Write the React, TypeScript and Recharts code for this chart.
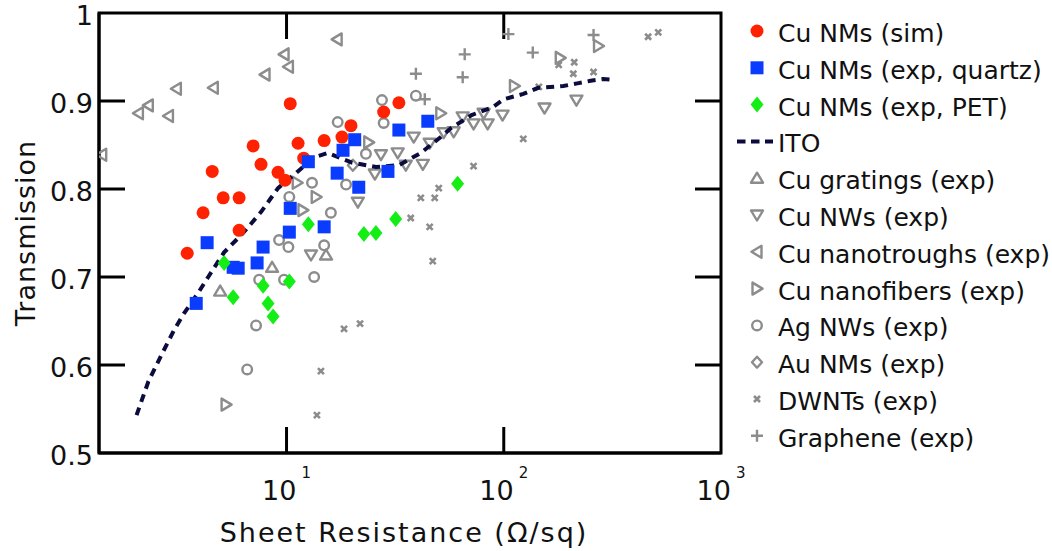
import React from "react";
import { ScatterChart, Scatter, XAxis, YAxis, Legend, ReferenceArea } from "recharts";

const FONT = "'DejaVu Sans', Verdana, sans-serif";
const RED = "#ff2200";
const BLUE = "#0a3cff";
const GREEN = "#14ee14";
const GRAY = "#8c8c8c";
const NAVY = "#0b0b3e";

type Pt = [number, number];

// sheet resistance (ohm/sq), transmission
const cuNmsSim: Pt[] = [
  [3.49, 0.727], [4.13, 0.773], [4.55, 0.82], [5.11, 0.79], [6.05, 0.79], [6.05, 0.753],
  [7.02, 0.849], [7.63, 0.828], [9.14, 0.819], [9.84, 0.81], [10.4, 0.897], [11.3, 0.852],
  [12.0, 0.835], [14.9, 0.855], [18.0, 0.859], [19.8, 0.872], [28.0, 0.8875], [32.9, 0.898],
];
const cuNmsQuartz: Pt[] = [
  [3.84, 0.67], [4.31, 0.739], [5.68, 0.711], [5.99, 0.71], [7.32, 0.716], [7.8, 0.734],
  [10.3, 0.751], [10.4, 0.778], [12.6, 0.831], [14.9, 0.757], [17.1, 0.818], [18.2, 0.844],
  [20.6, 0.856], [21.5, 0.802], [29.3, 0.82], [32.9, 0.867], [44.7, 0.877],
];
const cuNmsPet: Pt[] = [
  [5.16, 0.716], [5.68, 0.677], [7.8, 0.69], [8.22, 0.67], [8.67, 0.655], [10.3, 0.695],
  [12.6, 0.76], [22.7, 0.749], [25.8, 0.75], [31.8, 0.766], [61.3, 0.806],
];
const ito: Pt[] = [
  [2.04, 0.543], [2.31, 0.581], [2.65, 0.611], [3.04, 0.64], [3.38, 0.659], [3.92, 0.682],
  [4.36, 0.7], [5.16, 0.728], [6.31, 0.75], [7.64, 0.774], [9.14, 0.801], [10.8, 0.816],
  [13.4, 0.836], [15.5, 0.841], [20.0, 0.83], [25.8, 0.825], [32.9, 0.827], [41.5, 0.841],
  [51.3, 0.859], [57.0, 0.869], [71.1, 0.884], [88.9, 0.893], [100, 0.902], [123, 0.908],
  [144, 0.915], [188, 0.917], [218, 0.92], [251, 0.923], [287, 0.925], [326, 0.924],
];
const cuGratings: Pt[] = [[4.95, 0.684], [8.58, 0.711], [15.2, 0.725]];
const cuNws: Pt[] = [
  [12.96, 0.725], [21.3, 0.785], [25.5, 0.817], [27.2, 0.839], [32.5, 0.841], [35.4, 0.827],
  [38.5, 0.859], [42.4, 0.828], [45.6, 0.852], [52.9, 0.864], [58.8, 0.865], [64.7, 0.882],
  [72.6, 0.874], [84.3, 0.874], [80.8, 0.886], [98.7, 0.884], [154, 0.892], [216, 0.901],
];
const cuNanotroughs: Pt[] = [
  [1.41, 0.839], [2.08, 0.886], [2.31, 0.895], [2.86, 0.883], [3.11, 0.914], [4.6, 0.915],
  [7.96, 0.93], [9.74, 0.953], [10.2, 0.939], [17.1, 0.97],
];
const cuNanofibers: Pt[] = [
  [5.27, 0.555], [11.2, 0.807], [11.9, 0.776], [13.7, 0.791], [23.9, 0.853], [51.3, 0.886],
  [112, 0.917], [182, 0.949], [273, 0.9625],
];
const agNws: Pt[] = [
  [6.59, 0.595], [7.24, 0.645], [7.48, 0.697], [9.24, 0.742], [10.2, 0.734], [9.74, 0.697],
  [10.3, 0.791], [13.1, 0.807], [18.8, 0.805], [14.9, 0.736], [16.0, 0.773], [13.4, 0.7],
  [17.2, 0.876], [28.0, 0.875], [23.2, 0.84], [39.4, 0.906], [27.5, 0.901],
];
const auNms: Pt[] = [[20.2, 0.827]];
const dwnts: Pt[] = [
  [18.4, 0.641], [21.8, 0.647], [14.4, 0.593], [13.8, 0.543], [50.2, 0.801], [41.5, 0.79],
  [48.1, 0.79], [37.3, 0.767], [45.6, 0.757], [47.1, 0.718], [72.6, 0.826], [123, 0.857],
  [145, 0.916], [179, 0.941], [211, 0.944], [209, 0.931], [259, 0.933], [462, 0.973], [514, 0.978],
];
const graphene: Pt[] = [
  [39.4, 0.931], [43.3, 0.902], [64.7, 0.927], [66.1, 0.953], [105, 0.976], [136, 0.955], [259, 0.975],
];

const xTicks = [10, 100, 1000];
const yTicks = [0.5, 0.6, 0.7, 0.8, 0.9, 1];
const topTicks = [10, 100];
const rightTicks = [0.6, 0.7, 0.8, 0.9];
const X_DOMAIN: [number, number] = [1.37, 1000];
const Y_DOMAIN: [number, number] = [0.5, 1];
const TICK_LEN = 26;

const rows = (pts: Pt[]) => pts.map(([x, y]) => ({ x, y }));

type Kind = "dot" | "square" | "gem" | "up" | "down" | "left" | "right" | "ring" | "diamond" | "cross" | "plus" | "dash";

// legend order
const series: { name: string; data: Pt[]; kind: Kind; color: string }[] = [
  { name: "Cu NMs (sim)", data: cuNmsSim, kind: "dot", color: RED },
  { name: "Cu NMs (exp, quartz)", data: cuNmsQuartz, kind: "square", color: BLUE },
  { name: "Cu NMs (exp, PET)", data: cuNmsPet, kind: "gem", color: GREEN },
  { name: "ITO", data: ito, kind: "dash", color: NAVY },
  { name: "Cu gratings (exp)", data: cuGratings, kind: "up", color: GRAY },
  { name: "Cu NWs (exp)", data: cuNws, kind: "down", color: GRAY },
  { name: "Cu nanotroughs (exp)", data: cuNanotroughs, kind: "left", color: GRAY },
  { name: "Cu nanofibers (exp)", data: cuNanofibers, kind: "right", color: GRAY },
  { name: "Ag NWs (exp)", data: agNws, kind: "ring", color: GRAY },
  { name: "Au NMs (exp)", data: auNms, kind: "diamond", color: GRAY },
  { name: "DWNTs (exp)", data: dwnts, kind: "cross", color: GRAY },
  { name: "Graphene (exp)", data: graphene, kind: "plus", color: GRAY },
];

function Mark({ kind, cx, cy, color }: { kind: Kind; cx: number; cy: number; color: string }) {
  const sw = 2.4;
  const outline = { fill: "none", stroke: color, strokeWidth: sw, strokeLinejoin: "round" as const };
  switch (kind) {
    case "dot":
      return <circle cx={cx} cy={cy} r={6.5} fill={color} />;
    case "square":
      return <rect x={cx - 6.5} y={cy - 6.5} width={13} height={13} fill={color} />;
    case "gem":
      return <polygon points={`${cx},${cy - 8} ${cx + 6.5},${cy} ${cx},${cy + 8} ${cx - 6.5},${cy}`} fill={color} />;
    case "up":
      return <polygon points={`${cx},${cy - 5.5} ${cx + 6},${cy + 4.5} ${cx - 6},${cy + 4.5}`} {...outline} />;
    case "down":
      return <polygon points={`${cx},${cy + 5.5} ${cx + 6},${cy - 4.5} ${cx - 6},${cy - 4.5}`} {...outline} />;
    case "left":
      return <polygon points={`${cx - 5.5},${cy} ${cx + 4.5},${cy - 6} ${cx + 4.5},${cy + 6}`} {...outline} />;
    case "right":
      return <polygon points={`${cx + 5.5},${cy} ${cx - 4.5},${cy - 6} ${cx - 4.5},${cy + 6}`} {...outline} />;
    case "ring":
      return <circle cx={cx} cy={cy} r={4.8} {...outline} />;
    case "diamond":
      return <polygon points={`${cx},${cy - 5.5} ${cx + 5},${cy} ${cx},${cy + 5.5} ${cx - 5},${cy}`} {...outline} />;
    case "cross":
      return <path d={`M${cx - 3},${cy - 3}L${cx + 3},${cy + 3}M${cx + 3},${cy - 3}L${cx - 3},${cy + 3}`} stroke={color} strokeWidth={2.6} />;
    case "plus":
      return <path d={`M${cx - 6},${cy}L${cx + 6},${cy}M${cx},${cy - 6}L${cx},${cy + 6}`} stroke={color} strokeWidth={2.4} />;
    case "dash":
      return <line x1={cx - 20} y1={cy} x2={cx + 16} y2={cy} stroke={color} strokeWidth={4} strokeDasharray="8.5 5.5" />;
  }
  return null;
}

function BottomTick({ x, y, payload }: any) {
  const v = payload.value;
  return (
    <g>
      {v < X_DOMAIN[1] && <line x1={x} y1={y} x2={x} y2={y - TICK_LEN} stroke="#000" strokeWidth={3} />}
      <text x={x} y={y + 47} textAnchor="middle" fontSize={27} fontFamily={FONT} fill="#111">
        10
        <tspan dx={5} dy={-22} fontSize={15}>
          {Math.round(Math.log10(v))}
        </tspan>
      </text>
    </g>
  );
}

function LeftTick({ x, y, payload }: any) {
  const v = payload.value;
  return (
    <g>
      {v > Y_DOMAIN[0] && v < Y_DOMAIN[1] && <line x1={x} y1={y} x2={x + TICK_LEN} y2={y} stroke="#000" strokeWidth={3} />}
      <text x={x - 6} y={y + 12} textAnchor="end" fontSize={27} fontFamily={FONT} fill="#111">
        {v === 1 ? "1" : v.toFixed(1)}
      </text>
    </g>
  );
}

function XTitle({ viewBox }: any) {
  return (
    <text x={viewBox.x + viewBox.width / 2 - 6} y={viewBox.y + 89} textAnchor="middle" fontSize={27}
      fontFamily={FONT} fill="#111" letterSpacing={2}>
      Sheet Resistance (Ω/sq)
    </text>
  );
}

function YTitle({ viewBox }: any) {
  const cx = 25;
  const cy = viewBox.y + viewBox.height / 2;
  return (
    <text x={cx} y={cy} transform={`rotate(-90 ${cx} ${cy})`} textAnchor="middle" dominantBaseline="central"
      fontSize={27} fontFamily={FONT} fill="#111" letterSpacing={1}>
      Transmission
    </text>
  );
}

function LegendBox() {
  return (
    <svg width={322} height={460} style={{ display: "block" }}>
      {series.map((s, i) => {
        const cy = 33 + i * 36.8;
        return (
          <g key={s.name}>
            <Mark kind={s.kind} cx={27} cy={cy - 2} color={s.color} />
            <text x={48} y={cy + 9} fontSize={25} fontFamily={FONT} fill="#111">
              {s.name}
            </text>
          </g>
        );
      })}
    </svg>
  );
}

const drawOrder = [4, 5, 6, 7, 8, 9, 10, 11, 3, 0, 1, 2];

export default function App() {
  const axisLine = { stroke: "#000", strokeWidth: 3 };
  return (
    <div style={{ position: "absolute", left: 0, top: 0, width: 1052, height: 551, background: "#fff" }}>
      <ScatterChart width={1052} height={551} margin={{ top: 13, right: 331, bottom: 0, left: 0 }}>
        <XAxis xAxisId="b" type="number" dataKey="x" scale="log" domain={X_DOMAIN} allowDataOverflow
          ticks={xTicks} interval={0} tick={<BottomTick />} tickLine={false} tickSize={0} tickMargin={0}
          axisLine={axisLine} height={98} label={<XTitle />} />
        <YAxis yAxisId="l" type="number" dataKey="y" domain={Y_DOMAIN} allowDataOverflow ticks={yTicks}
          interval={0} tick={<LeftTick />} tickLine={false} tickSize={0} tickMargin={0} axisLine={axisLine}
          width={99} label={<YTitle />} />
        <ReferenceArea xAxisId="b" yAxisId="l" x1={X_DOMAIN[0]} x2={X_DOMAIN[1]} y1={Y_DOMAIN[0]} y2={Y_DOMAIN[1]}
          fill="none" fillOpacity={0} stroke="#000" strokeWidth={3} />
        {/* inward ticks on the top and right edges of the frame */}
        <Scatter data={topTicks.map((x) => ({ x, y: Y_DOMAIN[1] }))} xAxisId="b" yAxisId="l"
          isAnimationActive={false} legendType="none"
          shape={(p: any) => <line x1={p.cx} y1={p.cy} x2={p.cx} y2={p.cy + TICK_LEN} stroke="#000" strokeWidth={3} />} />
        <Scatter data={rightTicks.map((y) => ({ x: X_DOMAIN[1], y }))} xAxisId="b" yAxisId="l"
          isAnimationActive={false} legendType="none"
          shape={(p: any) => <line x1={p.cx} y1={p.cy} x2={p.cx - TICK_LEN} y2={p.cy} stroke="#000" strokeWidth={3} />} />
        {drawOrder.map((i) => {
          const s = series[i];
          if (s.kind === "dash") {
            return (
              <Scatter key={s.name} name={s.name} data={rows(s.data)} xAxisId="b" yAxisId="l"
                isAnimationActive={false} line={{ stroke: s.color, strokeWidth: 4, strokeDasharray: "8 6" }}
                shape={() => <g />} />
            );
          }
          return (
            <Scatter key={s.name} name={s.name} data={rows(s.data)} xAxisId="b" yAxisId="l"
              isAnimationActive={false}
              shape={(p: any) => <Mark kind={s.kind} cx={p.cx} cy={p.cy} color={s.color} />} />
          );
        })}
        <Legend layout="vertical" align="center" verticalAlign="middle" content={() => <LegendBox />}
          wrapperStyle={{ left: 730, top: 0, width: 322, height: 460 }} />
      </ScatterChart>
    </div>
  );
}
